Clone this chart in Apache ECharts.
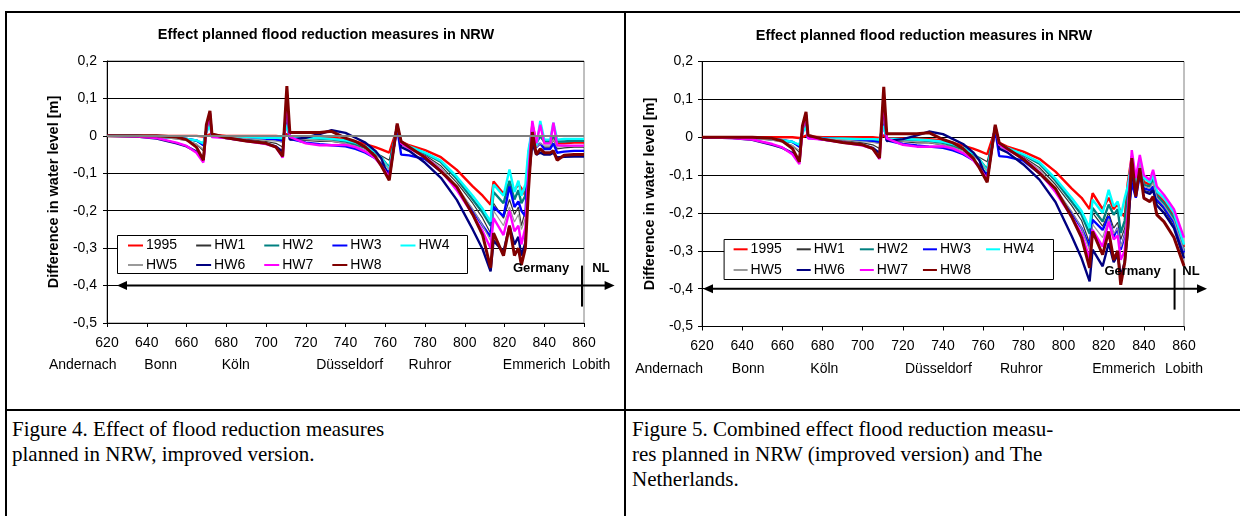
<!DOCTYPE html>
<html>
<head>
<meta charset="utf-8">
<script src="https://cdn.jsdelivr.net/npm/echarts/dist/echarts.min.js"></script>
<style>
  body { margin: 0; width: 1240px; height: 516px; overflow: hidden; background: #fff; position: relative; }
  .rule { position: absolute; background: #000; }
  .chart { position: absolute; }
  .caption { position: absolute; font-family: 'Liberation Serif', 'Times New Roman', serif; font-size: 21px; line-height: 25px; color: #000; white-space: nowrap; }
</style>
</head>
<body>
<div class="rule" style="left:5px;top:11px;width:1235px;height:2px"></div>
<div class="rule" style="left:5px;top:11px;width:2px;height:505px"></div>
<div class="rule" style="left:624px;top:11px;width:2px;height:505px"></div>
<div class="rule" style="left:5px;top:409px;width:1235px;height:2px"></div>
<div id="fig4" class="chart" style="left:7px;top:13px;width:617px;height:396px"></div>
<div id="fig5" class="chart" style="left:626px;top:13px;width:614px;height:396px"></div>
<div class="caption" style="left:12px;top:417px">Figure 4. Effect of flood reduction measures<br>planned in NRW, improved version.</div>
<div class="caption" style="left:632px;top:417px">Figure 5. Combined effect flood reduction measu-<br>res planned in NRW (improved version) and The<br>Netherlands.</div>
<script>
// river km along the Rhine
const km = [620, 635, 645, 655, 660, 665, 668.5, 670, 671.8, 672.8,
  680, 690, 700, 705, 708.4, 710.5, 712, 720, 727, 733,
  740, 745, 750, 755, 758, 762, 766, 768, 772, 780,
  788, 796, 804, 809, 813, 814.5, 819.5, 822.5, 825, 827,
  828.5, 830.5, 832, 834, 836, 838, 840, 843, 844.6, 846.5,
  850, 855, 860];

const seriesNames = ['1995', 'HW1', 'HW2', 'HW3', 'HW4', 'HW5', 'HW6', 'HW7', 'HW8'];
const cities = ['Andernach', 'Bonn', 'Köln', 'Düsseldorf', 'Ruhror', 'Emmerich', 'Lobith'];
const title = 'Effect planned flood reduction measures in NRW';

// figure 4: NRW measures
const fig4_1995 = [0, 0, 0, 0, 0, 0, -0.002, 0.0, 0.004, 0.002,
  0, 0, 0, 0, -0.002, 0.005, -0.003, -0.003, -0.004, -0.005,
  -0.008, -0.015, -0.022, -0.03, -0.036, -0.045, 0.02, -0.015, -0.025, -0.038,
  -0.057, -0.091, -0.135, -0.16, -0.184, -0.122, -0.155, -0.125, -0.145, -0.13,
  -0.14, -0.16, -0.06, 0.03, -0.015, 0.0, -0.015, -0.015, 0.0, -0.02,
  -0.02, -0.018, -0.018];
const fig4_hw1 = [0, 0, -0.003, -0.008, -0.012, -0.022, -0.04, 0.02, 0.05, 0.0,
  -0.003, -0.008, -0.015, -0.02, -0.03, 0.06, -0.01, -0.012, -0.015, -0.015,
  -0.02, -0.025, -0.033, -0.045, -0.053, -0.065, 0.025, -0.02, -0.033, -0.052,
  -0.08, -0.125, -0.18, -0.22, -0.26, -0.18, -0.22, -0.17, -0.21, -0.19,
  -0.24, -0.2, -0.1, 0.0, -0.03, -0.02, -0.03, -0.03, -0.01, -0.035,
  -0.032, -0.03, -0.03];
const fig4_hw2 = [0, 0, -0.002, -0.005, -0.008, -0.013, -0.022, 0.015, 0.04, 0.0,
  -0.002, -0.004, -0.006, -0.008, -0.012, 0.05, -0.005, -0.006, -0.008, -0.01,
  -0.015, -0.022, -0.032, -0.045, -0.058, -0.085, 0.028, -0.02, -0.03, -0.047,
  -0.07, -0.115, -0.17, -0.205, -0.24, -0.15, -0.18, -0.12, -0.17, -0.145,
  -0.18, -0.16, -0.07, 0.02, -0.02, 0.0, -0.015, -0.015, 0.0, -0.015,
  -0.015, -0.013, -0.013];
const fig4_hw3 = [0, 0, -0.002, -0.005, -0.008, -0.012, -0.025, 0.015, 0.038, -0.002,
  -0.003, -0.005, -0.008, -0.01, -0.015, 0.035, -0.008, -0.018, -0.022, -0.025,
  -0.028, -0.035, -0.045, -0.06, -0.075, -0.1, 0.02, -0.05, -0.052, -0.062,
  -0.095, -0.14, -0.2, -0.24, -0.27, -0.19, -0.215, -0.135, -0.19, -0.175,
  -0.2, -0.215, -0.05, 0.01, -0.03, -0.02, -0.035, -0.035, -0.02, -0.045,
  -0.042, -0.04, -0.04];
const fig4_hw4 = [0, 0, -0.002, -0.005, -0.008, -0.012, -0.02, 0.01, 0.03, -0.002,
  -0.003, -0.004, -0.005, -0.005, -0.006, 0.03, -0.004, -0.005, -0.006, -0.008,
  -0.012, -0.018, -0.028, -0.042, -0.058, -0.09, 0.025, -0.018, -0.028, -0.045,
  -0.066, -0.109, -0.16, -0.195, -0.229, -0.13, -0.16, -0.09, -0.15, -0.12,
  -0.16, -0.13, -0.04, 0.02, -0.03, 0.04, -0.01, -0.01, 0.035, -0.01,
  -0.008, -0.008, -0.008];
const fig4_hw5 = [0, 0, -0.003, -0.008, -0.013, -0.022, -0.035, 0.015, 0.04, 0.0,
  -0.003, -0.007, -0.012, -0.014, -0.017, 0.05, -0.008, -0.01, -0.012, -0.014,
  -0.02, -0.027, -0.037, -0.05, -0.062, -0.09, 0.025, -0.025, -0.035, -0.055,
  -0.085, -0.135, -0.195, -0.24, -0.28, -0.2, -0.24, -0.19, -0.23, -0.21,
  -0.25, -0.22, -0.1, 0.0, -0.03, -0.02, -0.025, -0.025, -0.01, -0.03,
  -0.028, -0.027, -0.027];
const fig4_hw6 = [0, -0.002, -0.007, -0.02, -0.028, -0.042, -0.064, 0.02, 0.06, 0.0,
  -0.006, -0.013, -0.02, -0.028, -0.042, 0.09, -0.01, -0.005, 0.005, 0.015,
  0.008, -0.005, -0.018, -0.04, -0.06, -0.115, 0.03, -0.03, -0.04, -0.072,
  -0.112, -0.171, -0.25, -0.303, -0.362, -0.28, -0.31, -0.24, -0.29, -0.27,
  -0.32, -0.285, -0.12, -0.02, -0.05, -0.045, -0.05, -0.05, -0.045, -0.058,
  -0.056, -0.055, -0.055];
const fig4_hw7 = [0, -0.002, -0.006, -0.018, -0.027, -0.045, -0.071, 0.02, 0.06, -0.003,
  -0.006, -0.014, -0.022, -0.03, -0.058, 0.1, -0.003, -0.02, -0.025, -0.025,
  -0.024, -0.03, -0.042, -0.06, -0.08, -0.11, 0.03, -0.02, -0.033, -0.056,
  -0.092, -0.145, -0.21, -0.255, -0.3, -0.22, -0.265, -0.2, -0.255, -0.24,
  -0.29, -0.245, -0.1, 0.04, -0.02, 0.03, -0.02, -0.02, 0.035, -0.025,
  -0.026, -0.026, -0.026];
const fig4_hw8 = [0, 0, 0, -0.003, -0.01, -0.03, -0.065, 0.03, 0.067, 0.005,
  -0.005, -0.014, -0.02, -0.03, -0.055, 0.133, 0.009, 0.009, 0.009, 0.012,
  -0.006, -0.015, -0.03, -0.055, -0.08, -0.119, 0.033, -0.015, -0.03, -0.058,
  -0.095, -0.136, -0.21, -0.265, -0.353, -0.26, -0.32, -0.24, -0.32, -0.3,
  -0.345, -0.3, -0.15, 0.01, -0.05, -0.035, -0.045, -0.045, -0.04, -0.065,
  -0.052, -0.05, -0.05];

// figure 5: NRW + Netherlands measures
const fig5_1995 = [0, 0, 0, 0, 0, 0, -0.002, 0.0, 0.004, 0.002,
  0, 0, 0, 0, -0.002, 0.005, -0.003, -0.003, -0.004, -0.005,
  -0.008, -0.015, -0.022, -0.03, -0.036, -0.045, 0.02, -0.015, -0.025, -0.038,
  -0.057, -0.091, -0.135, -0.16, -0.19, -0.148, -0.19, -0.16, -0.19, -0.175,
  -0.2, -0.21, -0.12, -0.05, -0.12, -0.07, -0.118, -0.125, -0.115, -0.15,
  -0.17, -0.205, -0.29];
const fig5_hw1 = [0, 0, -0.003, -0.008, -0.012, -0.022, -0.04, 0.02, 0.05, 0.0,
  -0.003, -0.008, -0.015, -0.02, -0.03, 0.06, -0.01, -0.012, -0.015, -0.015,
  -0.02, -0.025, -0.033, -0.045, -0.053, -0.065, 0.025, -0.02, -0.033, -0.052,
  -0.08, -0.125, -0.18, -0.22, -0.28, -0.2, -0.235, -0.2, -0.24, -0.225,
  -0.27, -0.24, -0.17, -0.07, -0.14, -0.08, -0.14, -0.145, -0.135, -0.17,
  -0.19, -0.235, -0.31];
const fig5_hw2 = [0, 0, -0.002, -0.005, -0.008, -0.013, -0.022, 0.015, 0.04, 0.0,
  -0.002, -0.004, -0.006, -0.008, -0.012, 0.05, -0.005, -0.006, -0.008, -0.01,
  -0.015, -0.022, -0.032, -0.045, -0.058, -0.085, 0.028, -0.02, -0.03, -0.047,
  -0.07, -0.115, -0.17, -0.205, -0.255, -0.187, -0.223, -0.178, -0.205, -0.19,
  -0.253, -0.22, -0.15, -0.065, -0.13, -0.07, -0.126, -0.13, -0.11, -0.155,
  -0.175, -0.215, -0.3];
const fig5_hw3 = [0, 0, -0.002, -0.005, -0.008, -0.012, -0.025, 0.015, 0.038, -0.002,
  -0.003, -0.005, -0.008, -0.01, -0.015, 0.035, -0.008, -0.018, -0.022, -0.025,
  -0.028, -0.035, -0.045, -0.06, -0.075, -0.1, 0.02, -0.05, -0.052, -0.062,
  -0.095, -0.14, -0.2, -0.24, -0.29, -0.218, -0.245, -0.209, -0.262, -0.24,
  -0.297, -0.26, -0.22, -0.12, -0.16, -0.1, -0.135, -0.14, -0.13, -0.165,
  -0.185, -0.225, -0.305];
const fig5_hw4 = [0, 0, -0.002, -0.005, -0.008, -0.012, -0.02, 0.01, 0.03, -0.002,
  -0.003, -0.004, -0.005, -0.005, -0.006, 0.03, -0.004, -0.005, -0.006, -0.008,
  -0.012, -0.018, -0.028, -0.042, -0.058, -0.09, 0.025, -0.018, -0.028, -0.045,
  -0.066, -0.109, -0.16, -0.195, -0.24, -0.165, -0.2, -0.139, -0.183, -0.17,
  -0.209, -0.16, -0.13, -0.06, -0.12, -0.06, -0.108, -0.12, -0.1, -0.143,
  -0.16, -0.2, -0.284];
const fig5_hw5 = [0, 0, -0.003, -0.008, -0.013, -0.022, -0.035, 0.015, 0.04, 0.0,
  -0.003, -0.007, -0.012, -0.014, -0.017, 0.05, -0.008, -0.01, -0.012, -0.014,
  -0.02, -0.027, -0.037, -0.05, -0.062, -0.09, 0.025, -0.025, -0.035, -0.055,
  -0.085, -0.135, -0.195, -0.24, -0.3, -0.23, -0.265, -0.215, -0.255, -0.24,
  -0.29, -0.26, -0.18, -0.065, -0.135, -0.07, -0.13, -0.135, -0.12, -0.16,
  -0.18, -0.22, -0.3];
const fig5_hw6 = [0, -0.002, -0.007, -0.02, -0.028, -0.042, -0.064, 0.02, 0.06, 0.0,
  -0.006, -0.013, -0.02, -0.028, -0.042, 0.09, -0.01, -0.005, 0.005, 0.015,
  0.008, -0.005, -0.018, -0.04, -0.06, -0.115, 0.03, -0.03, -0.04, -0.072,
  -0.112, -0.171, -0.26, -0.32, -0.381, -0.297, -0.341, -0.28, -0.33, -0.31,
  -0.368, -0.33, -0.25, -0.09, -0.15, -0.09, -0.143, -0.15, -0.14, -0.18,
  -0.2, -0.24, -0.32];
const fig5_hw7 = [0, -0.002, -0.006, -0.018, -0.027, -0.045, -0.071, 0.02, 0.06, -0.003,
  -0.006, -0.014, -0.022, -0.03, -0.058, 0.1, -0.003, -0.02, -0.025, -0.025,
  -0.024, -0.03, -0.042, -0.06, -0.08, -0.11, 0.03, -0.02, -0.033, -0.056,
  -0.092, -0.145, -0.21, -0.255, -0.32, -0.245, -0.289, -0.223, -0.27, -0.26,
  -0.324, -0.3, -0.2, -0.034, -0.108, -0.047, -0.1, -0.113, -0.086, -0.13,
  -0.152, -0.19, -0.265];
const fig5_hw8 = [0, 0, 0, -0.003, -0.01, -0.03, -0.065, 0.03, 0.067, 0.005,
  -0.005, -0.014, -0.02, -0.03, -0.055, 0.133, 0.009, 0.009, 0.009, 0.012,
  -0.006, -0.015, -0.03, -0.055, -0.08, -0.119, 0.033, -0.015, -0.03, -0.058,
  -0.095, -0.136, -0.21, -0.265, -0.345, -0.249, -0.31, -0.249, -0.324, -0.3,
  -0.39, -0.33, -0.24, -0.055, -0.157, -0.082, -0.161, -0.17, -0.157, -0.205,
  -0.223, -0.265, -0.34];

const lineColors = ['#ff0000', '#333333', '#008080', '#0000ff', '#00ffff', '#9a9a9a', '#000080', '#ff00ff', '#800000'];
const lineWidths = [2.4, 1.2, 2.4, 2.4, 2.4, 1.2, 2.4, 2.4, 3];
const FONT = 'Liberation Sans';

function fmtY(v) {
  const r = Math.round(v * 10) / 10;
  return r === 0 ? '0' : r.toFixed(1).replace('.', ',');
}

function drawChart(domId, values, lay) {
  const chart = echarts.init(document.getElementById(domId));
  const series = seriesNames.map((name, s) => ({
    name: name,
    type: 'line',
    symbol: 'none',
    data: km.map((k, i) => [k, values[s][i]]),
    lineStyle: { color: lineColors[s], width: lineWidths[s] },
    itemStyle: { color: lineColors[s] },
  }));
  if (lay.greyZero) {
    series[0].markLine = {
      silent: true, symbol: ['none', 'none'], label: { show: false },
      lineStyle: { color: '#808080', width: 2, type: 'solid' },
      data: [{ yAxis: 0 }],
    };
  }
  chart.setOption({
    animation: false,
    textStyle: { fontFamily: FONT, color: '#000' },
    grid: {
      left: lay.left, top: lay.top, width: lay.width, height: lay.height,
      show: true, borderColor: '#808080', borderWidth: 1, backgroundColor: '#fff',
    },
    xAxis: {
      type: 'value', min: 620, max: 860, interval: 20,
      axisLine: { onZero: false, lineStyle: { color: '#000', width: 1 } },
      axisTick: { show: true, length: 4, lineStyle: { color: '#000' } },
      axisLabel: { fontSize: 14, color: '#000', margin: lay.xMargin, fontFamily: FONT },
      splitLine: { show: false },
    },
    yAxis: {
      type: 'value', min: -0.5, max: 0.2, interval: 0.1,
      name: 'Difference in water level [m]', nameLocation: 'middle', nameRotate: 90, nameGap: lay.nameGap,
      nameTextStyle: { fontSize: 14.5, fontWeight: 'bold', color: '#000', fontFamily: FONT },
      axisLine: { show: true, lineStyle: { color: '#000' } },
      axisTick: { show: true, length: 4, lineStyle: { color: '#000' } },
      axisLabel: { fontSize: 14, color: '#000', margin: lay.yMargin, fontFamily: FONT, formatter: fmtY },
      splitLine: { show: true, lineStyle: { color: '#000', width: 1 } },
    },
    legend: [0, 1].map(row => ({
      data: row === 0 ? seriesNames.slice(0, 5) : seriesNames.slice(5),
      left: lay.legendX, top: lay.legendY[row], orient: 'horizontal',
      itemWidth: lay.iconW, itemHeight: 12, itemGap: lay.itemGap, padding: 0,
      selectedMode: false, z: 6,
      itemStyle: { opacity: 0, color: 'transparent', borderColor: 'transparent', borderWidth: 0 },
      textStyle: { fontSize: 14, color: '#000', fontFamily: FONT, padding: [0, 0, 0, -2] },
    })),
    series: series,
  });

  // annotations: title, legend frame, country arrow, city names
  const px = (x, y) => chart.convertToPixel({ gridIndex: 0 }, [x, y]);
  const ay = px(620, -0.4)[1];
  const xl = lay.left + lay.arrowIn;
  const xr = lay.left + lay.width + lay.arrowOut;
  const bx = px(lay.borderKm, 0)[0];
  const bold = 'bold 13px "' + FONT + '"';
  const plain = '14px "' + FONT + '"';
  const txt = (text, x, y, font) => ({
    type: 'text', x: x, y: y, z: 7,
    style: { text: text, font: font, fill: '#000', align: 'center', verticalAlign: 'middle', textAlign: 'center', textVerticalAlign: 'middle' },
  });
  const graphic = [
    txt(title, lay.titleX, lay.titleY, 'bold 14.5px "' + FONT + '"'),
    { type: 'rect', z: 5, shape: { x: lay.box[0] + 0.5, y: lay.box[1] + 0.5, width: lay.box[2], height: lay.box[3] },
      style: { fill: '#fff', stroke: '#000', lineWidth: 1 } },
    { type: 'line', z: 7, shape: { x1: xl + 6, y1: ay, x2: xr - 6, y2: ay }, style: { stroke: '#000', lineWidth: 2 } },
    { type: 'polygon', z: 7, shape: { points: [[xl, ay], [xl + 10, ay - 4.5], [xl + 10, ay + 4.5]] }, style: { fill: '#000' } },
    { type: 'polygon', z: 7, shape: { points: [[xr, ay], [xr - 10, ay - 4.5], [xr - 10, ay + 4.5]] }, style: { fill: '#000' } },
    { type: 'line', z: 7, shape: { x1: bx, y1: ay - 20, x2: bx, y2: ay + 21 }, style: { stroke: '#000', lineWidth: 2 } },
    txt('Germany', px(lay.germanyKm, 0)[0], ay - 17, bold),
    txt('NL', px(lay.nlKm, 0)[0], ay - 17, bold),
  ];
  cities.forEach((c, i) => graphic.push(txt(c, px(lay.cityKm[i], 0)[0], lay.cityY, plain)));
  chart.setOption({ graphic: graphic });
}

drawChart('fig4',
  [fig4_1995, fig4_hw1, fig4_hw2, fig4_hw3, fig4_hw4, fig4_hw5, fig4_hw6, fig4_hw7, fig4_hw8],
  {
    left: 100, top: 48, width: 477, height: 262, greyZero: true,
    xMargin: 13, yMargin: 10, nameGap: 42,
    legendX: 120, legendY: [225.5, 245], iconW: 15, itemGap: 18,
    box: [110, 222, 350, 38],
    arrowIn: 10, arrowOut: 30.6, borderKm: 859, germanyKm: 838.4, nlKm: 868.5,
    titleX: 319, titleY: 22,
    cityKm: [607.8, 647.0, 684.8, 742.1, 782.5, 835.0, 863.6], cityY: 352,
  });

drawChart('fig5',
  [fig5_1995, fig5_hw1, fig5_hw2, fig5_hw3, fig5_hw4, fig5_hw5, fig5_hw6, fig5_hw7, fig5_hw8],
  {
    left: 76, top: 48.5, width: 482, height: 265, greyZero: false,
    xMargin: 12.5, yMargin: 9, nameGap: 40,
    legendX: 106.6, legendY: [229.3, 250], iconW: 14, itemGap: 14,
    box: [97.6, 226, 329.4, 40],
    arrowIn: 1, arrowOut: 23, borderKm: 855.3, germanyKm: 834.4, nlKm: 863.5,
    titleX: 298, titleY: 23,
    cityKm: [603.6, 643, 680.9, 737.7, 779, 830, 860], cityY: 356.3,
  });
</script>
</body>
</html>
